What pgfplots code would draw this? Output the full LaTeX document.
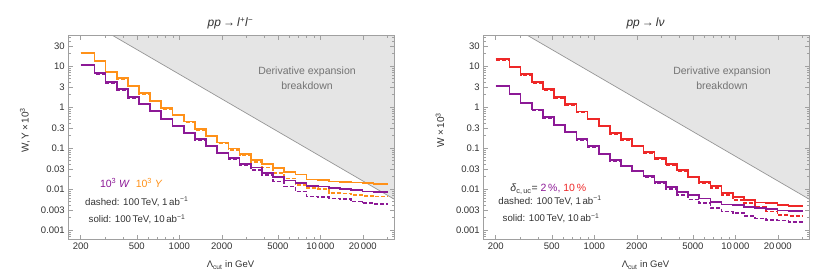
\documentclass[border=0pt]{standalone}
\usepackage{fontspec}
\setmainfont{Liberation Sans}
\usepackage{pgfplots}
\usepackage{pgfplotstable}
\pgfplotsset{compat=1.18}
\definecolor{mOrange}{RGB}{255,145,25}
\definecolor{mPurple}{RGB}{140,25,150}
\definecolor{mRed}{RGB}{238,40,40}
\definecolor{mFill}{RGB}{229,229,229}
\definecolor{mEdge}{RGB}{150,150,150}
\definecolor{mFrame}{RGB}{160,160,160}
\definecolor{mText}{RGB}{50,50,50}

% left panel: 10^3 W (purple), 10^3 Y (orange); s = 10 ab^-1, d = 1 ab^-1
\pgfplotstableread{
x     os      od      ps      pd
200   21.1    20.5    10.6    10.3
250   13.2    12.8    6.64    6.45
300   7.26    7.05    4.0     3.88
360   5.0     4.85    2.70    2.62
432   3.31    3.2     1.73    1.68
518   2.16    2.1     1.18    1.14
622   1.40    1.36    0.81    0.785
746   0.93    0.90    0.51    0.495
896   0.64    0.62    0.344   0.333
1075  0.44    0.425   0.236   0.229
1290  0.286   0.277   0.163   0.158
1548  0.196   0.19    0.112   0.108
1858  0.135   0.130   0.077   0.074
2229  0.098   0.089   0.056   0.053
2675  0.070   0.065   0.040   0.037
3210  0.051   0.0448  0.0335  0.029
3852  0.040   0.0331  0.025   0.0219
4622  0.032   0.0242  0.0199  0.0151
5547  0.026   0.0182  0.0160  0.0114
6656  0.0225  0.0125  0.0142  0.0086
7988  0.0170  0.0104  0.0120  0.0066
9585  0.0163  0.0100  0.0116  0.0064
11502 0.0153  0.0080  0.0104  0.0059
13803 0.0150  0.0078  0.0101  0.0057
16563 0.0143  0.0071  0.0095  0.0049
19876 0.0140  0.0068  0.0087  0.0046
23851 0.0133  0.0065  0.0084  0.0043
30000 0.0133  0.0065  0.0084  0.0043
}\tabL

% right panel: delta = 2% (purple), 10% (red)
\pgfplotstableread{
x     rs      rd      qs      qd
200   14.6    14.2    3.25    3.15
250   9.6     9.3     2.07    2.0
300   6.3     6.1     1.27    1.23
360   4.0     3.9     0.87    0.845
432   2.70    2.62    0.56    0.543
518   1.73    1.68    0.36    0.35
622   1.16    1.12    0.245   0.238
746   0.77    0.75    0.163   0.158
896   0.51    0.495   0.110   0.107
1075  0.344   0.333   0.072   0.070
1290  0.229   0.222   0.050   0.0485
1548  0.163   0.158   0.037   0.036
1858  0.113   0.109   0.028   0.027
2229  0.079   0.076   0.0205  0.0195
2675  0.056   0.054   0.0151  0.0135
3210  0.040   0.038   0.0114  0.0100
3852  0.029   0.0275  0.0086  0.0072
4622  0.020   0.019   0.0071  0.0055
5547  0.0151  0.0138  0.0059  0.0045
6656  0.0118  0.0104  0.0049  0.0034
7988  0.0079  0.0071  0.0042  0.0028
9585  0.0065  0.0054  0.0040  0.0026
11502 0.0054  0.0046  0.0036  0.0022
13803 0.0047  0.0036  0.0034  0.0019
16563 0.0045  0.0028  0.0032  0.00177
19876 0.0041  0.0023  0.0030  0.00170
23851 0.0039  0.0022  0.0029  0.00159
30000 0.0039  0.0022  0.0029  0.00159
}\tabR

\begin{document}
\begin{tikzpicture}
\path[use as bounding box] (0pt,0pt) rectangle (830pt,276pt);

\begin{axis}[
    at={(68.3pt,36.7pt)}, anchor=south west,
    scale only axis, width=325.7pt, height=203.6pt,
    xmode=log, ymode=log,
    xmin=163.3, xmax=33300, ymin=5.93e-4, ymax=54.8,
    axis on top,
    axis line style={mFrame, line width=0.6pt},
    major tick style={mFrame, line width=0.5pt},
    minor tick style={mFrame, line width=0.5pt},
    major tick length=4.5pt, minor tick length=2.5pt,
    tick align=inside, xtick pos=both, ytick pos=both,
    xtick={200,500,1000,2000,5000,10000,20000},
    xticklabels={200,500,1000,2000,5000,10\,000,20\,000},
    minor xtick={300,400,600,700,800,900,3000,4000,6000,7000,8000,9000,30000},
    ytick={0.001,0.003,0.01,0.03,0.1,0.3,1,3,10,30},
    yticklabels={0.001,0.003,0.01,0.03,0.1,0.3,1,3,10,30},
    minor ytick={0.0006,0.0007,0.0008,0.0009,0.002,0.004,0.005,0.006,0.007,0.008,0.009,0.02,0.04,0.05,0.06,0.07,0.08,0.09,0.2,0.4,0.5,0.6,0.7,0.8,0.9,2,4,5,6,7,8,9,20,40,50},
    tick label style={font=\fontsize{9.5}{11}\selectfont, text=mText},
  ]
  \addplot[fill=mFill, draw=none] coordinates {(300,70) (40000,0.0039375) (40000,100) (300,100) (300,70)};
  \addplot[draw=mEdge, line width=0.7pt] coordinates {(300,70) (40000,0.0039375)};
  \addplot[const plot, draw=mOrange, line width=1.6pt, dash pattern=on 4pt off 2pt] table[x=x, y=od] {\tabL};
  \addplot[const plot, draw=mPurple, line width=1.6pt, dash pattern=on 4pt off 2pt] table[x=x, y=pd] {\tabL};
  \addplot[const plot, draw=mOrange, line width=1.7pt] table[x=x, y=os] {\tabL};
  \addplot[const plot, draw=mPurple, line width=1.7pt] table[x=x, y=ps] {\tabL};
\end{axis}

\begin{axis}[
    at={(483.3pt,36.7pt)}, anchor=south west,
    scale only axis, width=325.7pt, height=203.6pt,
    xmode=log, ymode=log,
    xmin=163.3, xmax=33300, ymin=5.93e-4, ymax=54.8,
    axis on top,
    axis line style={mFrame, line width=0.6pt},
    major tick style={mFrame, line width=0.5pt},
    minor tick style={mFrame, line width=0.5pt},
    major tick length=4.5pt, minor tick length=2.5pt,
    tick align=inside, xtick pos=both, ytick pos=both,
    xtick={200,500,1000,2000,5000,10000,20000},
    xticklabels={200,500,1000,2000,5000,10\,000,20\,000},
    minor xtick={300,400,600,700,800,900,3000,4000,6000,7000,8000,9000,30000},
    ytick={0.001,0.003,0.01,0.03,0.1,0.3,1,3,10,30},
    yticklabels={0.001,0.003,0.01,0.03,0.1,0.3,1,3,10,30},
    minor ytick={0.0006,0.0007,0.0008,0.0009,0.002,0.004,0.005,0.006,0.007,0.008,0.009,0.02,0.04,0.05,0.06,0.07,0.08,0.09,0.2,0.4,0.5,0.6,0.7,0.8,0.9,2,4,5,6,7,8,9,20,40,50},
    tick label style={font=\fontsize{9.5}{11}\selectfont, text=mText},
  ]
  \addplot[fill=mFill, draw=none] coordinates {(300,70) (40000,0.0039375) (40000,100) (300,100) (300,70)};
  \addplot[draw=mEdge, line width=0.7pt] coordinates {(300,70) (40000,0.0039375)};
  \addplot[const plot, draw=mRed, line width=1.6pt, dash pattern=on 4pt off 2pt] table[x=x, y=rd] {\tabR};
  \addplot[const plot, draw=mPurple, line width=1.6pt, dash pattern=on 4pt off 2pt] table[x=x, y=qd] {\tabR};
  \addplot[const plot, draw=mRed, line width=1.7pt] table[x=x, y=rs] {\tabR};
  \addplot[const plot, draw=mPurple, line width=1.7pt] table[x=x, y=qs] {\tabR};
\end{axis}

% titles
\node[font=\fontsize{12}{14}\selectfont, text=mText] at (230.5pt,252.7pt) {\textit{pp}\,→\,\textit{l}\textsuperscript{+}\textit{l}\textsuperscript{−}};
\node[font=\fontsize{12}{14}\selectfont, text=mText] at (645.5pt,252.7pt) {\textit{pp}\,→\,\textit{lν}};
% axis labels
\node[rotate=90, font=\fontsize{10}{12}\selectfont, text=mText] at (25pt,146pt) {W,\,Y\,×\,10\textsuperscript{3}};
\node[rotate=90, font=\fontsize{10}{12}\selectfont, text=mText] at (440pt,146pt) {W\,×\,10\textsuperscript{3}};
\node[font=\fontsize{9.5}{11}\selectfont, text=mText] at (230.5pt,11pt) {Λ\textsubscript{cut} in GeV};
\node[font=\fontsize{9.5}{11}\selectfont, text=mText] at (645.5pt,11pt) {Λ\textsubscript{cut} in GeV};
% region labels
\node[align=center, font=\fontsize{10.5}{15}\selectfont, text=black!55] at (307pt,197.5pt) {Derivative expansion\\breakdown};
\node[align=center, font=\fontsize{10.5}{15}\selectfont, text=black!55] at (722pt,197.5pt) {Derivative expansion\\breakdown};
% legends
\node[font=\fontsize{10.5}{13}\selectfont] at (131.3pt,92.7pt) {\color{mPurple}10\textsuperscript{3} \textit{W}\ \ \color{mOrange}10\textsuperscript{3} \textit{Y}};
\node[font=\fontsize{9.7}{11}\selectfont, text=mText] at (136.7pt,74.3pt) {dashed: 100\,TeV, 1\,ab\textsuperscript{−1}};
\node[font=\fontsize{9.7}{11}\selectfont, text=mText] at (137pt,56.7pt) {solid: 100\,TeV, 10\,ab\textsuperscript{−1}};
\node[font=\fontsize{10.5}{13}\selectfont, text=mText] at (548.3pt,86.7pt) {\textit{δ}\textsubscript{c,\,uc}= \color{mPurple}2\,\%, \color{mRed}10\,\%};
\node[font=\fontsize{9.7}{11}\selectfont, text=mText] at (550pt,75pt) {dashed: 100\,TeV, 1\,ab\textsuperscript{−1}};
\node[font=\fontsize{9.7}{11}\selectfont, text=mText] at (551pt,57.7pt) {solid: 100\,TeV, 10\,ab\textsuperscript{−1}};
\end{tikzpicture}
\end{document}
